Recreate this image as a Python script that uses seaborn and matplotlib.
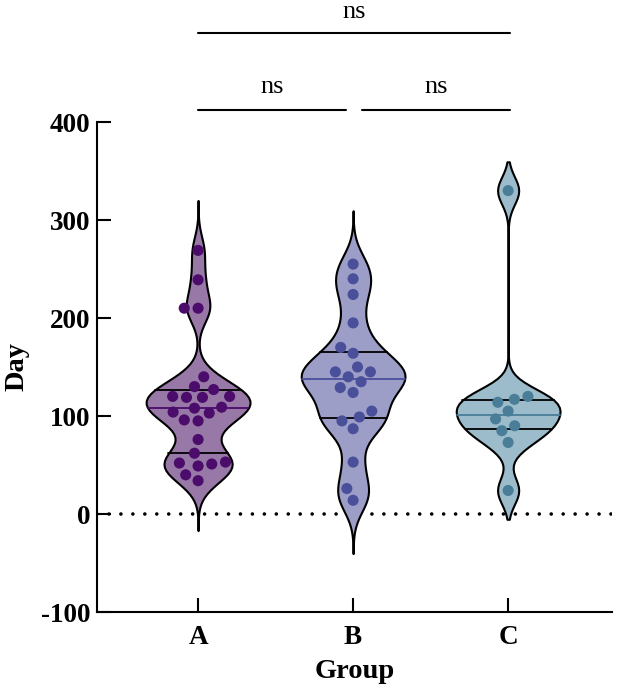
import numpy as np
import pandas as pd
import matplotlib
matplotlib.use("Agg")
import matplotlib.pyplot as plt
import seaborn as sns

# ---- data ----
groups = ["A", "B", "C"]
values_A = [269, 239, 210, 210, 140, 130, 127, 120, 120, 119, 119, 109, 108,
            104, 103, 96, 95, 76, 62, 53, 52, 51, 49, 40, 34]
values_B = [255, 240, 224, 195, 170, 164, 150, 145, 145, 140, 135, 129, 124,
            105, 99, 95, 87, 53, 26, 14]
values_C = [330, 120, 117, 114, 105, 97, 90, 85, 73, 24]
ytick_values = [-100, 0, 100, 200, 300, 400]
ytick_labels = ["-100", "0", "100", "200", "300", "400"]
comparisons = [("A", "C", "ns"), ("A", "B", "ns"), ("B", "C", "ns")]

# ---- style ----
fill_colors = ["#9878a6", "#9d9ec7", "#9cbccb"]
point_colors = ["#4b0c6b", "#4a4f9a", "#4a7e98"]
kde_bw = [15, 17, 14]      # bandwidth in data units
kde_cut = [3.4, 3.2, 2.1]

sns.set_theme(style="ticks")
plt.rcParams["font.family"] = ["Liberation Serif", "DejaVu Serif"]
plt.rcParams["axes.unicode_minus"] = False
plt.rcParams["text.color"] = "black"
plt.rcParams["axes.labelcolor"] = "black"
plt.rcParams["xtick.color"] = "black"
plt.rcParams["ytick.color"] = "black"

df = pd.DataFrame({
    "Group": np.repeat(groups, [len(values_A), len(values_B), len(values_C)]),
    "Day": np.concatenate([values_A, values_B, values_C]).astype(float),
})

fig = plt.figure(figsize=(6.17, 6.89), dpi=100)
ax = fig.add_axes([97 / 617, 1 - 612 / 689, (612 - 97) / 617, (612 - 122) / 689])

for i, g in enumerate(groups):
    sub = df[df["Group"] == g]
    sd = sub["Day"].std()
    n_before = len(ax.lines)
    sns.violinplot(data=sub, x="Group", y="Day", order=groups,
                   color=fill_colors[i], saturation=1, linecolor="black",
                   linewidth=1.5, width=0.67, density_norm="width",
                   bw_method=kde_bw[i] / sd, cut=kde_cut[i], inner="quart",
                   ax=ax)
    for j, ln in enumerate(ax.lines[n_before:]):
        ln.set_linestyle("-")
        ln.set_linewidth(1.3)
        ln.set_color(point_colors[i] if j == 1 else "black")

sns.swarmplot(data=df, x="Group", y="Day", order=groups, hue="Group",
              hue_order=groups, palette=point_colors, size=8, linewidth=1.5,
              edgecolor=(0, 0, 0, 0), legend=False, zorder=3, ax=ax)

ax.axhline(0, color="black", lw=2.6, linestyle=(0, (0.01, 3.3)),
           dash_capstyle="round", zorder=0.5)

ax.set_ylim(-100, 400)
ax.set_xlim(-0.652, 2.67)
ax.set_yticks(ytick_values)
ax.set_yticklabels(ytick_labels)

for s in ["top", "right"]:
    ax.spines[s].set_visible(False)
for s in ["left", "bottom"]:
    ax.spines[s].set_linewidth(1.5)
    ax.spines[s].set_color("black")

ax.tick_params(axis="both", direction="in", length=10, width=1.5,
               colors="black", labelsize=19.5)
ax.tick_params(axis="y", pad=5)
ax.tick_params(axis="x", pad=9)
for lab in ax.get_xticklabels() + ax.get_yticklabels():
    lab.set_fontweight("bold")

ax.set_xlabel("Group", fontsize=20.5, fontweight="bold", labelpad=7)
ax.set_ylabel("Day", fontsize=20.5, fontweight="bold", labelpad=8)

# ---- significance brackets ----
bracket_specs = {("A", "C"): (0.0, 2.01, 491, 506),
                 ("A", "B"): (0.0, 0.955, 412, 430),
                 ("B", "C"): (1.06, 2.01, 412, 430)}
for g1, g2, txt in comparisons:
    x0, x1, yl, yt = bracket_specs[(g1, g2)]
    ax.plot([x0, x1], [yl, yl], color="black", lw=1.5, clip_on=False)
    ax.text((x0 + x1) / 2, yt, txt, ha="center", va="baseline",
            fontsize=19, clip_on=False)

fig.savefig("out.png", dpi=100)
